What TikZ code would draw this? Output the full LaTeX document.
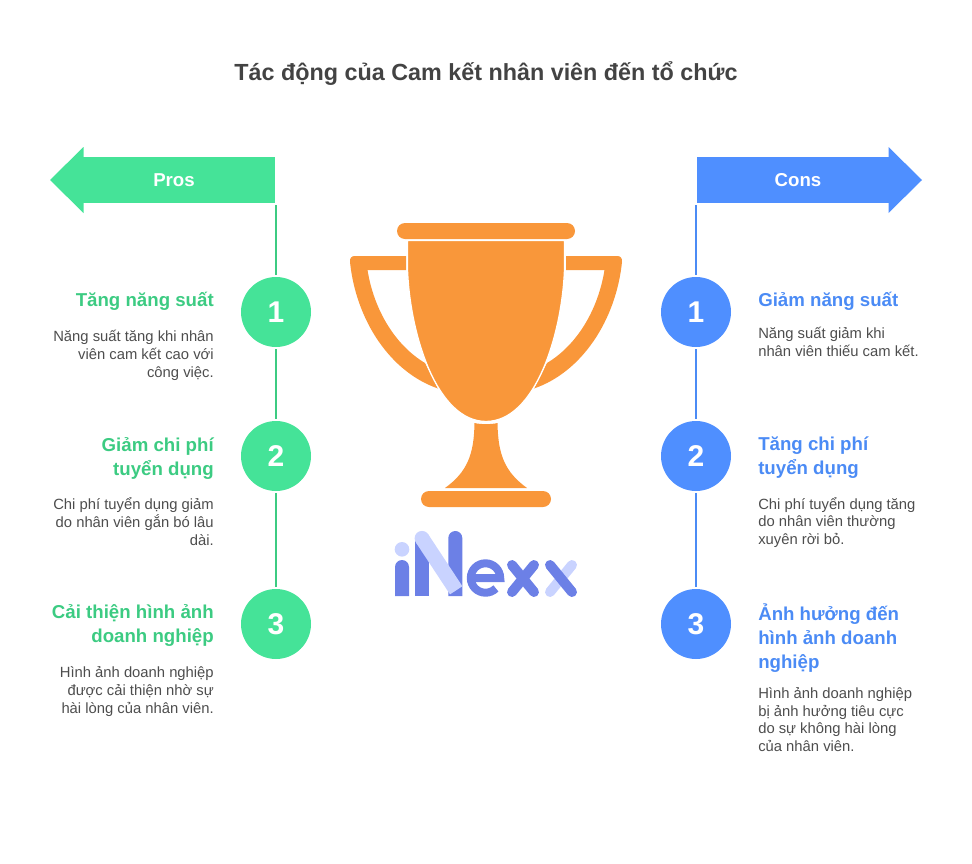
\documentclass[tikz,border=0pt]{standalone}
\usepackage{fontspec}
\setmainfont{Liberation Sans}
\definecolor{prosfill}{HTML}{45E398}
\definecolor{prostext}{HTML}{3CCB82}
\definecolor{consfill}{HTML}{4F8FFF}
\definecolor{constext}{HTML}{4B8BF5}
\definecolor{bodygray}{HTML}{4D4D4D}
\definecolor{titlegray}{HTML}{434343}
\definecolor{cuporange}{HTML}{F9973A}
\definecolor{logodark}{HTML}{6C80E6}
\definecolor{logolight}{HTML}{C9D3FF}
\tikzset{
  x=0.75pt, y=-0.75pt,
  banner/.style={rectangle, minimum width=144pt, minimum height=34.5pt, inner sep=0pt},
  bannertext/.style={text=white, font=\fontsize{14}{16}\selectfont\bfseries, inner sep=0pt},
  numdot/.style={circle, minimum size=52.5pt, inner sep=0pt, outer sep=1.5pt, text=white, font=\fontsize{22.5}{26}\selectfont\bfseries},
  headleft/.style={anchor=north east, align=right, inner sep=0pt, font=\fontsize{14}{18}\selectfont\bfseries, text=prostext},
  bodyleft/.style={anchor=north east, align=right, inner sep=0pt, font=\fontsize{11.1}{13.5}\selectfont, text=bodygray},
  headright/.style={anchor=north west, align=left, inner sep=0pt, font=\fontsize{14}{18}\selectfont\bfseries, text=constext},
  bodyright/.style={anchor=north west, align=left, inner sep=0pt, font=\fontsize{11.1}{13.3}\selectfont, text=bodygray},
  logostroke/.style={line width=7.5pt, line cap=round},
}
\begin{document}
\begin{tikzpicture}
  \useasboundingbox (0,0) rectangle (972,864);
  \node[inner sep=0pt, text=titlegray, font=\fontsize{17.5}{22}\selectfont\bfseries] (title) at (486,73.5) {Tác động của Cam kết nhân viên đến tổ chức};
  % banners
  \node[banner, fill=prosfill] (prosbar) at (179,180) {};
  \fill[prosfill] (83.5,147) -- (50,180) -- (83.5,213) -- cycle;
  \node[bannertext] (prosname) at (174,180) {Pros};
  \node[banner, fill=consfill] (consbar) at (793,180) {};
  \fill[consfill] (888.5,147) -- (922,180) -- (888.5,213) -- cycle;
  \node[bannertext] (consname) at (798,180) {Cons};
  % numbered dots
  \foreach \n/\ypos in {1/312,2/456,3/624} {
    \node[numdot, fill=prosfill] (pros\n) at (276,\ypos) {\n};
    \node[numdot, fill=consfill] (cons\n) at (696,\ypos) {\n};
  }
  \coordinate (prostop) at (276,205);
  \coordinate (constop) at (696,205);
  \draw[prostext, line width=1.5pt] (prostop) -- (pros1);
  \draw[prostext, line width=1.5pt] (pros1) -- (pros2);
  \draw[prostext, line width=1.5pt] (pros2) -- (pros3);
  \draw[constext, line width=1.5pt] (constop) -- (cons1);
  \draw[constext, line width=1.5pt] (cons1) -- (cons2);
  \draw[constext, line width=1.5pt] (cons2) -- (cons3);
  % left column
  \node[headleft] (proshead1) at (214,292) {Tăng năng suất};
  \node[bodyleft] (prosbody1) at (214,329.5) {Năng suất tăng khi nhân\\viên cam kết cao với\\công việc.};
  \node[headleft] (proshead2) at (214,437) {Giảm chi phí\\tuyển dụng};
  \node[bodyleft] (prosbody2) at (214,497) {Chi phí tuyển dụng giảm\\do nhân viên gắn bó lâu\\dài.};
  \node[headleft] (proshead3) at (214,604) {Cải thiện hình ảnh\\doanh nghiệp};
  \node[bodyleft] (prosbody3) at (214,666) {Hình ảnh doanh nghiệp\\được cải thiện nhờ sự\\hài lòng của nhân viên.};
  % right column
  \node[headright] (conshead1) at (758,292) {Giảm năng suất};
  \node[bodyright] (consbody1) at (758,327) {Năng suất giảm khi\\nhân viên thiếu cam kết.};
  \node[headright] (conshead2) at (758,437) {Tăng chi phí\\tuyển dụng};
  \node[bodyright] (consbody2) at (758,497) {Chi phí tuyển dụng tăng\\do nhân viên thường\\xuyên rời bỏ.};
  \node[headright] (conshead3) at (758,604) {Ảnh hưởng đến\\hình ảnh doanh\\nghiệp};
  \node[bodyright] (consbody3) at (758,687) {Hình ảnh doanh nghiệp\\bị ảnh hưởng tiêu cực\\do sự không hài lòng\\của nhân viên.};
  % trophy
  \fill[cuporange, rounded corners=6pt] (397,223) rectangle (575,239);
  \fill[cuporange] (406,256) -- (355,256) .. controls (351.5,256) and (349.5,258) .. (350,262) .. controls (356,320) and (390,372) .. (438,388.5) -- (425,363) .. controls (395,345) and (374,310) .. (367.5,270) -- (406,270) -- cycle;
  \fill[cuporange] (566,256) -- (617,256) .. controls (620.5,256) and (622.5,258) .. (622,262) .. controls (616,320) and (582,372) .. (534,388.5) -- (547,363) .. controls (577,345) and (598,310) .. (604.5,270) -- (566,270) -- cycle;
  \filldraw[fill=cuporange, draw=white, line width=1pt] (407.5,240.5) -- (564.5,240.5) -- (564.5,270) .. controls (562,335) and (535,421.5) .. (486,421.5) .. controls (437,421.5) and (410,335) .. (407.5,270) -- cycle;
  \fill[cuporange] (474.5,423) .. controls (480,424.5) and (492,424.5) .. (497.5,423) .. controls (498,455) and (505,472) .. (527,488) -- (445,488) .. controls (467,472) and (474,455) .. (474.5,423) -- cycle;
  \fill[cuporange, rounded corners=6pt] (421,491) rectangle (551,507);
  % logo
  \fill[logolight] (402,549.3) circle (7.3);
  \fill[logodark] (395,596) -- (395,567) arc[start angle=180, end angle=360, radius=7] -- (409,596) -- cycle;
  \fill[logodark] (415,596) rectangle (429.3,540);
  \fill[logodark] (448.3,596) -- (448.3,538) arc[start angle=180, end angle=360, radius=7] -- (462.3,596) -- cycle;
  \draw[logolight, line width=11.1pt] (422,538.3) -- (456.2,590.3);
  \fill[logolight] (422,538.3) circle (7.4);
  \draw[logodark, line width=6pt] (470.8,578) -- (500.2,578) arc[start angle=0, end angle=-315, radius=14.7];
  \draw[logostroke, logodark] (512,565) -- (534,592);
  \draw[logostroke, logodark] (534,565) -- (512,592);
  \draw[logostroke, logolight] (550,592) -- (572,565);
  \draw[logostroke, logodark] (550,565) -- (572,592);
\end{tikzpicture}
\end{document}
